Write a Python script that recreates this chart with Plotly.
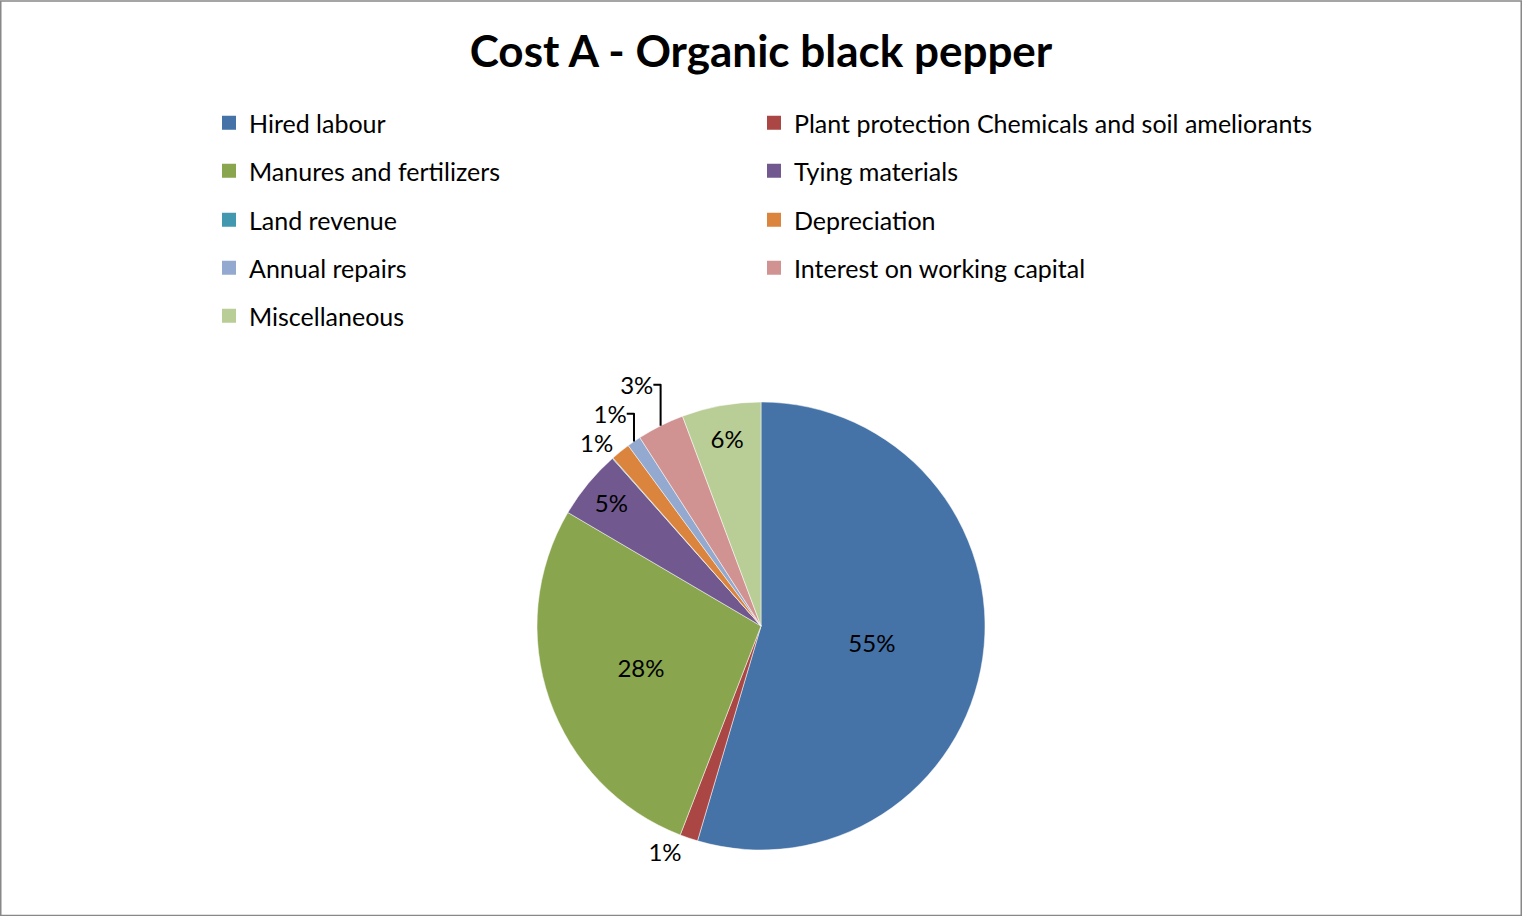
import plotly.graph_objects as go

labels = ["Hired labour", "Plant protection Chemicals and soil ameliorants",
          "Manures and fertilizers", "Tying materials", "Land revenue",
          "Depreciation", "Annual repairs", "Interest on working capital",
          "Miscellaneous"]
values = [54.6, 1.3, 27.6, 5.0, 0.05, 1.4, 1.0, 3.4, 5.7]
colors = ["#4572A7", "#AA4643", "#89A54E", "#71588F", "#4198AF",
          "#DB843D", "#93A9CF", "#D19392", "#B9CD96"]
textpos = ["inside", "outside", "inside", "inside", "none",
           "outside", "outside", "outside", "inside"]

W, H = 1522, 916
cx, cy, r = 761, 626, 224
FONT = "Lato"

fig = go.Figure()
fig.add_trace(go.Pie(
    labels=labels, values=values, sort=False, direction="clockwise", rotation=0,
    marker=dict(colors=colors, line=dict(color="white", width=0.5)),
    texttemplate="%{percent:.0%}", textposition=textpos,
    insidetextorientation="horizontal",
    textfont=dict(family=FONT, size=24, color="black"),
    outsidetextfont=dict(family=FONT, size=24, color="black"),
    insidetextfont=dict(family=FONT, size=24, color="black"),
    domain=dict(x=[(cx - r) / W, (cx + r) / W],
                y=[(H - cy - r) / H, (H - cy + r) / H]),
    hoverinfo="label+percent",
    showlegend=False,
))

# legend grid: two columns, five rows; one legend per entry so long text is never clipped
row_y = [123, 171, 220, 268, 316]
col_x = [209, 754]
layout_legends = {}
for i, (lab, col) in enumerate(zip(labels, colors)):
    lname = "legend" if i == 0 else f"legend{i + 1}"
    fig.add_trace(go.Scatter(
        x=[None], y=[None], mode="markers", name=lab,
        marker=dict(symbol="square", size=14, color=col),
        legend=lname, showlegend=True, hoverinfo="skip",
    ))
    layout_legends[lname] = dict(
        orientation="v", x=col_x[i % 2] / W, xanchor="left",
        y=1 - row_y[i // 2] / H, yanchor="middle",
        font=dict(family=FONT, size=25, color="black"),
        itemwidth=30, bgcolor="rgba(0,0,0,0)",
        itemclick=False, itemdoubleclick=False,
    )

fig.update_layout(
    width=W, height=H,
    margin=dict(l=0, r=0, t=0, b=0),
    paper_bgcolor="white", plot_bgcolor="white",
    font=dict(family=FONT, color="black"),
    title=dict(text="<b>Cost A - Organic black pepper</b>", x=0.5, xanchor="center",
               y=1 - 52 / H, yanchor="middle",
               font=dict(family=FONT, size=44, color="black")),
    xaxis=dict(visible=False), yaxis=dict(visible=False),
    shapes=[dict(type="rect", xref="paper", yref="paper", x0=0.0005, x1=0.9995, y0=0.0005, y1=0.999,
                 line=dict(color="#888888", width=1.5), layer="below")],
    **layout_legends,
)

fig.write_html("out.html")
